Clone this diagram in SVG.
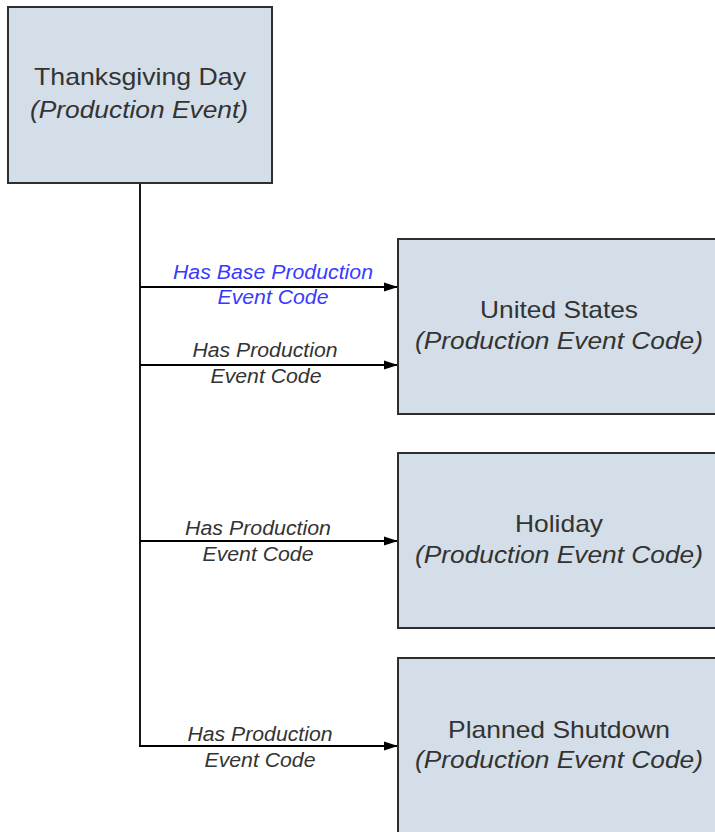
<svg xmlns="http://www.w3.org/2000/svg" width="715" height="832" viewBox="0 0 715 832">
<style>
.box{fill:#d4dee8;stroke:#2e2e2e;stroke-width:2}
.t{font-family:"Liberation Sans",Arial,sans-serif;font-size:24px;fill:#333;text-anchor:middle}
.i{font-style:italic}
.lbl{font-family:"Liberation Sans",Arial,sans-serif;font-size:20px;font-style:italic;fill:#333;text-anchor:middle}
.blue{fill:#3a3aff}
.c{fill:none;stroke:#000;stroke-width:1.8}
</style>
<defs>
<marker id="ah" markerWidth="14" markerHeight="10" refX="14" refY="5" orient="auto" markerUnits="userSpaceOnUse">
<path d="M0,0.5 L14,5 L0,9.5 Z" fill="#000"/>
</marker>
</defs>
<rect width="715" height="832" fill="#fff"/>
<g id="connectors">
<path class="c" d="M140,183 V747"/>
<path class="c" d="M140,287 H398" marker-end="url(#ah)"/>
<path class="c" d="M140,365 H398" marker-end="url(#ah)"/>
<path class="c" d="M140,541 H398" marker-end="url(#ah)"/>
<path class="c" d="M139,746 H398" marker-end="url(#ah)"/>
<text class="lbl blue" x="273" y="279" textLength="200" lengthAdjust="spacingAndGlyphs">Has Base Production</text>
<text class="lbl blue" x="273" y="304" textLength="111" lengthAdjust="spacingAndGlyphs">Event Code</text>
<text class="lbl" x="265" y="357" textLength="145" lengthAdjust="spacingAndGlyphs">Has Production</text>
<text class="lbl" x="266" y="383" textLength="111" lengthAdjust="spacingAndGlyphs">Event Code</text>
<text class="lbl" x="258" y="535" textLength="146" lengthAdjust="spacingAndGlyphs">Has Production</text>
<text class="lbl" x="258" y="561" textLength="111" lengthAdjust="spacingAndGlyphs">Event Code</text>
<text class="lbl" x="260" y="741" textLength="145" lengthAdjust="spacingAndGlyphs">Has Production</text>
<text class="lbl" x="260" y="767" textLength="111" lengthAdjust="spacingAndGlyphs">Event Code</text>
</g>
<g id="thanksgiving">
<rect class="box" x="8" y="7" width="264" height="176"/>
<text class="t" x="140" y="85" textLength="212" lengthAdjust="spacingAndGlyphs">Thanksgiving Day</text>
<text class="t i" x="139" y="118" textLength="218" lengthAdjust="spacingAndGlyphs">(Production Event)</text>
</g>
<g id="united-states">
<rect class="box" x="398" y="239" width="330" height="175"/>
<text class="t" x="559" y="318" textLength="158" lengthAdjust="spacingAndGlyphs">United States</text>
<text class="t i" x="559" y="349" textLength="288" lengthAdjust="spacingAndGlyphs">(Production Event Code)</text>
</g>
<g id="holiday">
<rect class="box" x="398" y="453" width="330" height="175"/>
<text class="t" x="559" y="532" textLength="88" lengthAdjust="spacingAndGlyphs">Holiday</text>
<text class="t i" x="559" y="563" textLength="288" lengthAdjust="spacingAndGlyphs">(Production Event Code)</text>
</g>
<g id="planned-shutdown">
<rect class="box" x="398" y="658" width="330" height="190"/>
<text class="t" x="559" y="738" textLength="222" lengthAdjust="spacingAndGlyphs">Planned Shutdown</text>
<text class="t i" x="559" y="768" textLength="288" lengthAdjust="spacingAndGlyphs">(Production Event Code)</text>
</g>
</svg>
